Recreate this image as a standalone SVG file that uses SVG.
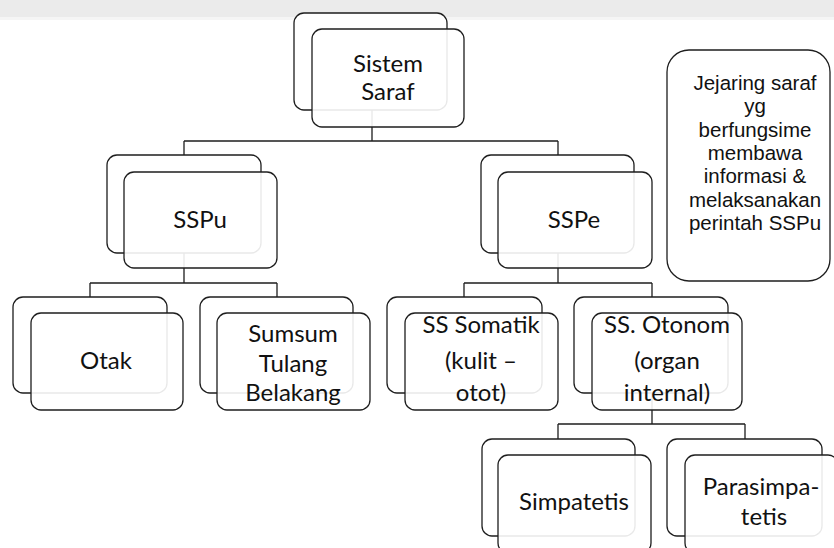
<svg xmlns="http://www.w3.org/2000/svg" width="834" height="548" viewBox="0 0 834 548">
<style>
.bk{fill:#ffffff;stroke:#1e1e1e;stroke-width:1.3}
.fr{fill:#ffffff;fill-opacity:0.9;stroke:#1e1e1e;stroke-width:1.3}
.cn{fill:none;stroke:#1e1e1e;stroke-width:1.3}
.t{font-family:Lato,"Open Sans",sans-serif;font-size:24px;fill:#111;text-anchor:middle}
.s{font-family:"Liberation Sans",Arial,sans-serif;font-size:20.5px;fill:#111;text-anchor:middle}
</style>
<rect x="0" y="0" width="834" height="548" fill="#ffffff"/>
<rect x="0" y="0" width="834" height="17" fill="#ebebeb"/>
<rect x="0" y="17" width="834" height="3" fill="#f5f5f5"/>
<g id="connectors">
<path class="cn" d="M372 110V141M184 141H558M184 141V155M558 141V155"/>
<path class="cn" d="M184 253V283M90 283H277M90 283V297M277 283V297"/>
<path class="cn" d="M558 253V283M464 283H652M464 283V297M652 283V297"/>
<path class="cn" d="M652 393V424M558 424H745M558 424V439M745 424V439"/>
</g>
<g id="sistem-saraf">
<rect class="bk" x="294" y="13" width="153" height="97" rx="10"/>
<rect class="fr" x="312" y="29" width="152" height="98" rx="10"/>
<text class="t" x="388" y="72">Sistem</text>
<text class="t" x="388" y="100">Saraf</text>
</g>
<g id="sspu">
<rect class="bk" x="107" y="155" width="154" height="98" rx="10"/>
<rect class="fr" x="124" y="172" width="153" height="96" rx="10"/>
<text class="t" x="200" y="228">SSPu</text>
</g>
<g id="sspe">
<rect class="bk" x="481" y="155" width="153" height="98" rx="10"/>
<rect class="fr" x="498" y="172" width="154" height="96" rx="10"/>
<text class="t" x="574" y="228">SSPe</text>
</g>
<g id="otak">
<rect class="bk" x="13" y="297" width="154" height="96" rx="10"/>
<rect class="fr" x="31" y="313" width="152" height="97" rx="10"/>
<text class="t" x="106" y="369">Otak</text>
</g>
<g id="sumsum">
<rect class="bk" x="200" y="297" width="153" height="96" rx="10"/>
<rect class="fr" x="217" y="313" width="153" height="97" rx="10"/>
<text class="t" x="293" y="342">Sumsum</text>
<text class="t" x="293" y="371.5">Tulang</text>
<text class="t" x="293" y="401">Belakang</text>
</g>
<g id="ss-somatik">
<rect class="bk" x="387" y="297" width="155" height="96" rx="10"/>
<rect class="fr" x="405" y="313" width="153" height="97" rx="10"/>
<text class="t" x="481" y="333">SS Somatik</text>
<text class="t" x="481" y="369">(kulit –</text>
<text class="t" x="481" y="401">otot)</text>
</g>
<g id="ss-otonom">
<rect class="bk" x="574" y="297" width="154" height="96" rx="10"/>
<rect class="fr" x="592" y="313" width="150" height="97" rx="10"/>
<text class="t" x="667" y="333">SS. Otonom</text>
<text class="t" x="667" y="369">(organ</text>
<text class="t" x="667" y="401">internal)</text>
</g>
<g id="simpatetis">
<rect class="bk" x="482" y="439" width="153" height="97" rx="10"/>
<rect class="fr" x="498" y="455" width="153" height="98" rx="10"/>
<text class="t" x="574" y="510">Simpatetis</text>
</g>
<g id="parasimpatetis">
<rect class="bk" x="667" y="439" width="155" height="97" rx="10"/>
<rect class="fr" x="685" y="455" width="153" height="98" rx="10"/>
<text class="t" x="761" y="495">Parasimpa-</text>
<text class="t" x="764" y="525">tetis</text>
</g>
<g id="callout">
<rect x="667" y="50" width="163" height="231" rx="22" fill="#ffffff" stroke="#1e1e1e" stroke-width="1.3"/>
<text class="s" x="755" y="90">Jejaring saraf</text>
<text class="s" x="755" y="113">yg</text>
<text class="s" x="755" y="137">berfungsime</text>
<text class="s" x="755" y="160">membawa</text>
<text class="s" x="755" y="183">informasi &amp;</text>
<text class="s" x="755" y="207">melaksanakan</text>
<text class="s" x="755" y="230">perintah SSPu</text>
</g>
</svg>
